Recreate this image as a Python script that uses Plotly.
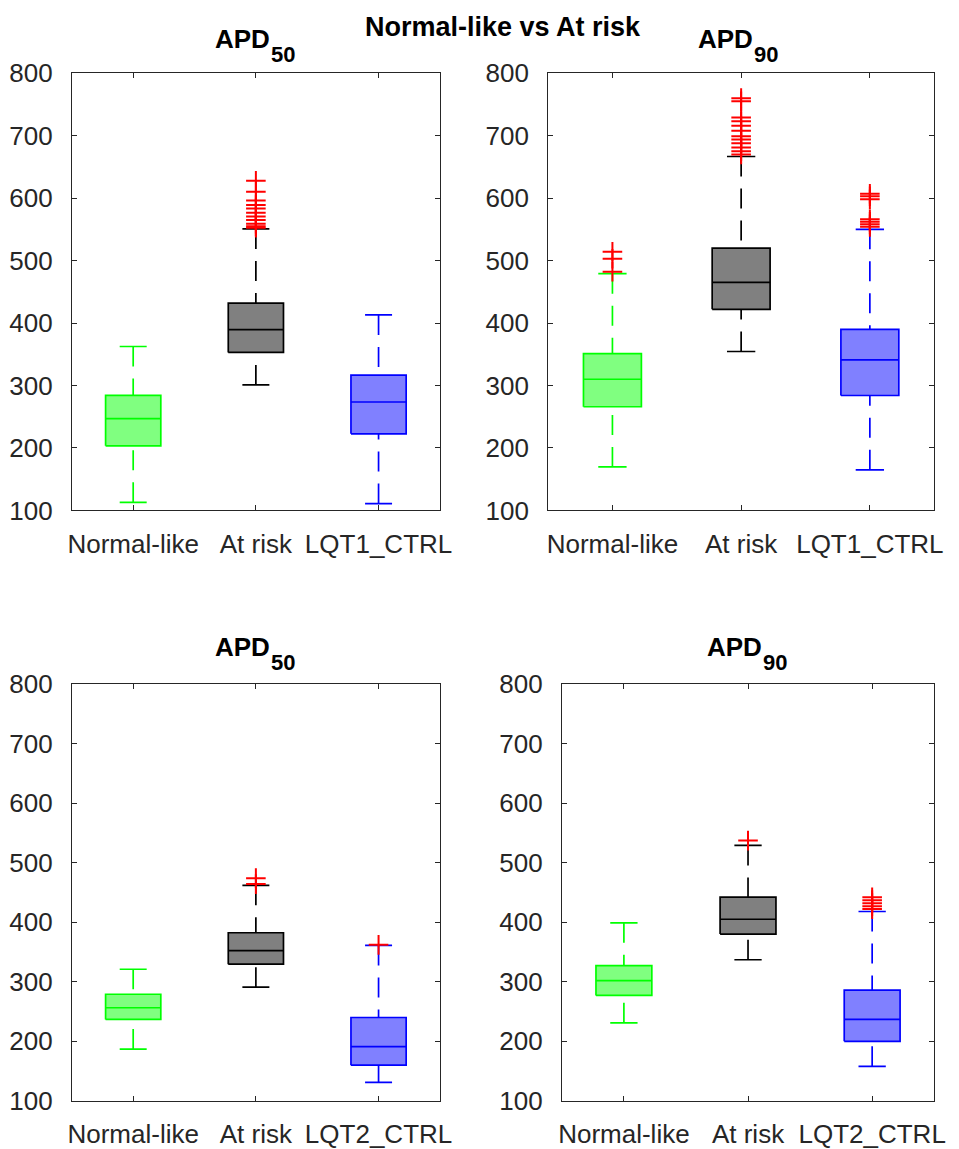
import plotly.graph_objects as go

W, H = 959, 1149

# ---------------- data ----------------
main_title = "Normal-like vs At risk"
groups_top = ["Normal-like", "At risk", "LQT1_CTRL"]
groups_bottom = ["Normal-like", "At risk", "LQT2_CTRL"]
title_main = ["APD", "APD", "APD", "APD"]
title_sub = ["50", "90", "50", "90"]
y_ticks = [100, 200, 300, 400, 500, 600, 700, 800]

# top-left: APD50, LQT1
tl_lower = [113, 301, 111]
tl_q1 = [203.5, 353, 222.7]
tl_median = [247, 389.5, 273.6]
tl_q3 = [284.3, 432, 316.6]
tl_upper = [362.4, 550.7, 413]
tl_outliers = [[], [627.6, 610, 596, 589, 583.5, 576.7, 570.5, 564.8, 559, 555, 552.5], []]

# top-right: APD90, LQT1
tr_lower = [169.6, 354.4, 165]
tr_q1 = [266, 422, 284]
tr_median = [310, 465, 341]
tr_q3 = [351, 520, 390]
tr_upper = [479, 666.6, 550]
tr_outliers = [[514, 503, 482],
               [760, 755, 729, 723, 716, 708, 699, 694, 688, 681, 675, 670],
               [607, 603, 598, 566, 562, 558, 554]]

# bottom-left: APD50, LQT2
bl_lower = [187, 291, 131]
bl_q1 = [236.7, 329.5, 160]
bl_median = [256.4, 352.3, 191]
bl_q3 = [279, 382.3, 240]
bl_upper = [321, 462, 361]
bl_outliers = [[], [474, 464], [362]]

# bottom-right: APD90, LQT2
br_lower = [231, 337, 158]
br_q1 = [277, 380, 200]
br_median = [302, 405, 237]
br_q3 = [327, 442, 286]
br_upper = [399, 529, 418]
br_outliers = [[], [537], [442, 437, 432, 427, 422]]

# ---------------- styles ----------------
edge_colors = ["#00FF00", "#000000", "#0000FF"]
fill_colors = ["#80FF80", "#808080", "#8080FF"]
outlier_color = "#FF0000"
axis_color = "#262626"
FONT = "Liberation Sans, Arial, sans-serif"
BOX_HW = 0.225
CAP_HW = 0.11
LW = 1.7

def px_x(v):
    return v / W

def px_y(v):
    return 1 - v / H

TOP_Y = (60, 511)
BOT_Y = (690, 1120)

panels = [
    dict(lower=tl_lower, q1=tl_q1, med=tl_median, q3=tl_q3, upper=tl_upper, out=tl_outliers,
         cats=groups_top, xd=(69, 443.3), yd=TOP_Y),
    dict(lower=tr_lower, q1=tr_q1, med=tr_median, q3=tr_q3, upper=tr_upper, out=tr_outliers,
         cats=groups_top, xd=(553.3, 946), yd=TOP_Y),
    dict(lower=bl_lower, q1=bl_q1, med=bl_median, q3=bl_q3, upper=bl_upper, out=bl_outliers,
         cats=groups_bottom, xd=(69, 443.3), yd=BOT_Y),
    dict(lower=br_lower, q1=br_q1, med=br_median, q3=br_q3, upper=br_upper, out=br_outliers,
         cats=groups_bottom, xd=(567.3, 946), yd=BOT_Y),
]

fig = go.Figure()
layout_axes = {}

for p, pan in enumerate(panels):
    sfx = "" if p == 0 else str(p + 1)
    xref, yref = "x" + sfx, "y" + sfx
    for i in range(3):
        xc = i + 1
        ec, fc = edge_colors[i], fill_colors[i]
        lo, q1, md, q3, up = pan["lower"][i], pan["q1"][i], pan["med"][i], pan["q3"][i], pan["upper"][i]
        # whiskers (dashed, drawn from cap toward box)
        for a, b in ((up, q3), (lo, q1)):
            fig.add_trace(go.Scatter(x=[xc, xc], y=[a, b], mode="lines", xaxis=xref, yaxis=yref,
                                     line=dict(color=ec, width=LW, dash="20px,12px"),
                                     hoverinfo="skip"))
        # box
        fig.add_trace(go.Scatter(x=[xc - BOX_HW, xc + BOX_HW, xc + BOX_HW, xc - BOX_HW, xc - BOX_HW],
                                 y=[q1, q1, q3, q3, q1], mode="lines", fill="toself",
                                 fillcolor=fc, line=dict(color=ec, width=LW),
                                 xaxis=xref, yaxis=yref, hoverinfo="skip"))
        # median
        fig.add_trace(go.Scatter(x=[xc - BOX_HW, xc + BOX_HW], y=[md, md], mode="lines",
                                 line=dict(color=ec, width=LW), xaxis=xref, yaxis=yref,
                                 hoverinfo="skip"))
        # caps
        fig.add_trace(go.Scatter(x=[xc - CAP_HW, xc + CAP_HW, None, xc - CAP_HW, xc + CAP_HW],
                                 y=[up, up, None, lo, lo], mode="lines",
                                 line=dict(color=ec, width=LW), xaxis=xref, yaxis=yref,
                                 hoverinfo="skip"))
        # outliers
        if pan["out"][i]:
            fig.add_trace(go.Scatter(x=[xc] * len(pan["out"][i]), y=pan["out"][i], mode="markers",
                                     marker=dict(symbol="cross-thin", size=14,
                                                 line=dict(color=outlier_color, width=2)),
                                     xaxis=xref, yaxis=yref, hoverinfo="skip"))
    common = dict(showline=True, linecolor=axis_color, linewidth=1, mirror="ticks",
                  ticks="inside", ticklen=5, tickcolor=axis_color, tickwidth=1,
                  showgrid=False, zeroline=False,
                  tickfont=dict(family=FONT, size=26, color=axis_color))
    layout_axes["xaxis" + sfx] = dict(common, domain=[px_x(pan["xd"][0]), px_x(pan["xd"][1])],
                                      range=[0.5, 3.5], tickvals=[1, 2, 3], ticktext=pan["cats"],
                                      anchor=yref, ticklabelstandoff=10)
    layout_axes["yaxis" + sfx] = dict(common, domain=[px_y(pan["yd"][1]), px_y(pan["yd"][0])],
                                      range=[100, 800], tickvals=y_ticks, anchor=xref,
                                      ticklabelstandoff=13)

annotations = [dict(text="<b>" + main_title + "</b>", x=px_x(507), y=px_y(12), xref="paper", yref="paper",
                    xanchor="center", yanchor="middle", showarrow=False,
                    font=dict(family=FONT, size=27, color="#000000"))]
title_pos = [(213, 25, 41), (704, 25, 41), (213, 652, 668), (712.7, 652, 668)]
for k, (xl, yc, ys) in enumerate(title_pos):
    annotations.append(dict(text="<b>" + title_main[k] + "</b>", x=px_x(xl), y=px_y(yc),
                            xref="paper", yref="paper", xanchor="left", yanchor="middle",
                            showarrow=False, font=dict(family=FONT, size=26, color="#000000")))
    annotations.append(dict(text="<b>" + title_sub[k] + "</b>", x=px_x(xl + 57), y=px_y(ys),
                            xref="paper", yref="paper", xanchor="left", yanchor="middle",
                            showarrow=False, font=dict(family=FONT, size=22, color="#000000")))

fig.update_layout(width=W, height=H, margin=dict(l=0, r=0, t=0, b=0),
                  paper_bgcolor="white", plot_bgcolor="white", showlegend=False,
                  annotations=annotations, **layout_axes)

fig.write_html("out.html")
